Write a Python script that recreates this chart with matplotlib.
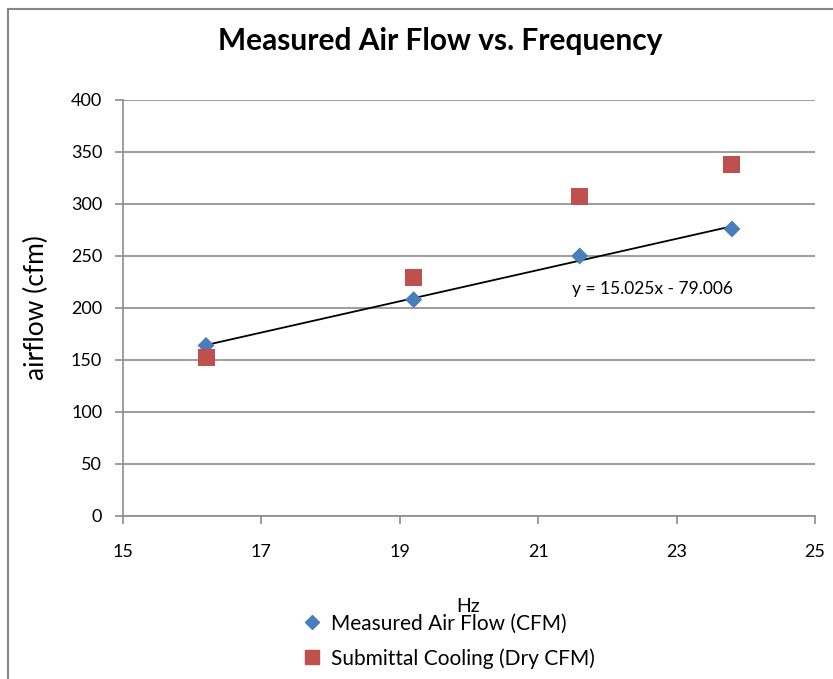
import matplotlib
matplotlib.use("Agg")
import matplotlib.pyplot as plt
from matplotlib.lines import Line2D
from matplotlib.patches import Rectangle

hz = [16.2, 19.2, 21.6, 23.8]
measured_cfm = [164, 208, 250, 276]
submittal_cfm = [152, 229, 307, 338]
slope, intercept = 15.025, -79.006

blue = "#4a7ebb"
red = "#c0504d"
grid_c = "#8c8c8c"

plt.rcParams["font.family"] = ["Lato", "DejaVu Sans"]

fig = plt.figure(figsize=(8.33, 6.79), dpi=100)
fig.patches.append(Rectangle((8 / 833, -0.1), 1.2, 1 - 9 / 679 + 0.1,
                             transform=fig.transFigure, fill=False,
                             edgecolor="#868686", linewidth=1.5))
ax = fig.add_axes([123 / 833, 163 / 679, 692 / 833, 416 / 679])

fit_y = [slope * x + intercept for x in (hz[0], hz[-1])]
ax.plot([hz[0], hz[-1]], fit_y, color="black", linewidth=1.3, zorder=3)
ax.scatter(hz, measured_cfm, marker="D", s=75, color=blue, zorder=4,
           edgecolors="none")
ax.scatter(hz, submittal_cfm, marker="s", s=150, color=red, zorder=4,
           edgecolors="none")

ax.set_xlim(15, 25)
ax.set_ylim(0, 400)
ax.set_xticks(range(15, 26, 2))
ax.set_yticks(range(0, 401, 50))
ax.grid(axis="y", color=grid_c, linewidth=1.2)
ax.set_axisbelow(True)
for s in ("top", "right"):
    ax.spines[s].set_visible(False)
for s in ("left", "bottom"):
    ax.spines[s].set_color(grid_c)
    ax.spines[s].set_linewidth(1.2)
ax.tick_params(colors=grid_c, labelcolor="black", labelsize=13, length=6, width=1.2)
ax.tick_params(axis="x", pad=14)
ax.tick_params(axis="y", pad=9)

ax.text(22.65, 218, f"y = {slope}x - {abs(intercept)}", ha="center", va="center",
        fontsize=12.5)

fig.text(440 / 833, 1 - 41 / 679, "Measured Air Flow vs. Frequency", ha="center",
         va="center", fontsize=21.5, fontweight="bold")
fig.text(36 / 833, 1 - 308 / 679, "airflow (cfm)", rotation=90, ha="center",
         va="center", fontsize=19)
fig.text(468 / 833, 1 - 606 / 679, "Hz", ha="center", va="center", fontsize=14)

handles = [Line2D([], [], marker="D", linestyle="none", color=blue, markersize=7),
           Line2D([], [], marker="s", linestyle="none", color=red, markersize=10)]
fig.legend(handles, ["Measured Air Flow (CFM)", "Submittal Cooling (Dry CFM)"],
           loc="center left", bbox_to_anchor=(283 / 833, 1 - 641 / 679), frameon=False,
           fontsize=15, handlelength=1.0, handletextpad=0.4, labelspacing=0.7)

fig.savefig("out.png", dpi=100)
